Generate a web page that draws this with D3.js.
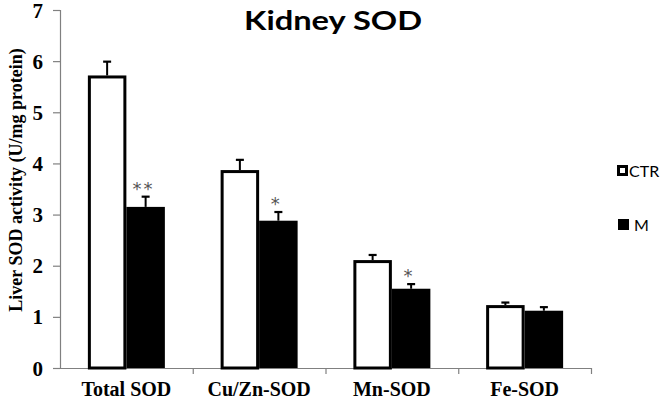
<!DOCTYPE html>
<html><head><meta charset="utf-8">
<script src="https://cdn.jsdelivr.net/npm/d3@7"></script>
<style>body{margin:0;background:#fff}svg{display:block}</style>
</head><body>
<svg id="c" width="666" height="403"></svg>
<script>
const categories = ["Total SOD", "Cu/Zn-SOD", "Mn-SOD", "Fe-SOD"];
const seriesNames = ["CTR", "M"];
const ctrValues = [5.72, 3.87, 2.11, 1.23];
const ctrErrors = [0.27, 0.20, 0.10, 0.05];
const mValues = [3.15, 2.88, 1.55, 1.12];
const mErrors = [0.20, 0.17, 0.09, 0.07];
const significance = ["**", "*", "*", ""];
const yTicks = [0, 1, 2, 3, 4, 5, 6, 7];

const svg = d3.select("#c");
const x0 = d3.scaleBand().domain(categories).range([60, 591]).paddingInner(0.42).paddingOuter(0.21);
const x1 = d3.scaleBand().domain(seriesNames).range([0, x0.bandwidth()]);
const y = d3.scaleLinear().domain([0, 7]).range([368, 10]);

const serif = "'Liberation Serif','Times New Roman',serif";
const sans = "Lato,'Open Sans','Liberation Sans',sans-serif";
const axisColor = "#808080";

// y axis
const yAxis = svg.append("g").attr("transform", "translate(60,0)")
  .call(d3.axisLeft(y).tickValues(yTicks).tickSize(7).tickPadding(10).tickFormat(d3.format("d")));
yAxis.select(".domain").attr("stroke", axisColor).attr("stroke-width", 1.2);
yAxis.selectAll(".tick line").attr("stroke", axisColor).attr("stroke-width", 1.2);
yAxis.selectAll(".tick text").attr("font-family", serif).attr("font-weight", "bold")
  .attr("font-size", 21).attr("fill", "#000").attr("dy", "0.34em");

// x axis
const xAxisScale = d3.scaleLinear().domain([0, 4]).range([60, 591]);
const xAxis = svg.append("g").attr("transform", "translate(0,368)")
  .call(d3.axisBottom(xAxisScale).tickValues([1, 2, 3, 4]).tickSize(6).tickSizeOuter(0).tickFormat(""));
xAxis.select(".domain").attr("stroke", axisColor).attr("stroke-width", 1.2);
xAxis.selectAll(".tick line").attr("stroke", axisColor).attr("stroke-width", 1.2);

svg.append("g").selectAll("text").data(categories).join("text")
  .attr("x", d => x0(d) + x0.bandwidth() / 2)
  .attr("y", 396)
  .attr("text-anchor", "middle")
  .attr("font-family", serif).attr("font-weight", "bold").attr("font-size", 20)
  .text(d => d);

// bars
const rows = categories.map((c, i) => ({
  cat: c,
  bars: [
    {s: "CTR", v: ctrValues[i], e: ctrErrors[i]},
    {s: "M", v: mValues[i], e: mErrors[i]}
  ],
  sig: significance[i]
}));

const groups = svg.append("g").selectAll("g").data(rows).join("g")
  .attr("transform", d => `translate(${x0(d.cat)},0)`);

groups.selectAll("g.err").data(d => d.bars).join("g").attr("class", "err").each(function(d) {
  const g = d3.select(this);
  const cx = x1(d.s) + x1.bandwidth() / 2;
  g.append("line").attr("x1", cx).attr("x2", cx).attr("y1", y(d.v)).attr("y2", y(d.v + d.e))
    .attr("stroke", "#000").attr("stroke-width", 2);
  g.append("line").attr("x1", cx - 4).attr("x2", cx + 4).attr("y1", y(d.v + d.e)).attr("y2", y(d.v + d.e))
    .attr("stroke", "#000").attr("stroke-width", 2.2);
});

groups.selectAll("rect").data(d => d.bars).join("rect")
  .attr("x", d => x1(d.s) + (d.s === "CTR" ? 1.5 : 0))
  .attr("y", d => y(d.v) + (d.s === "CTR" ? 1.5 : 0))
  .attr("width", d => x1.bandwidth() - (d.s === "CTR" ? 3 : 0))
  .attr("height", d => y(0) - y(d.v) - (d.s === "CTR" ? 1.5 : 0))
  .attr("fill", d => d.s === "CTR" ? "#fff" : "#000")
  .attr("stroke", "#000").attr("stroke-width", d => d.s === "CTR" ? 3 : 0);

// significance markers
groups.append("text")
  .attr("x", x1("M") + x1.bandwidth() / 2 - 2)
  .attr("y", d => y(d.bars[1].v + d.bars[1].e) - 2)
  .attr("text-anchor", "middle")
  .attr("font-family", "'DejaVu Sans',sans-serif").attr("font-size", 18)
  .attr("fill", "#555")
  .attr("letter-spacing", 2)
  .text(d => d.sig);

// title
svg.append("text").attr("x", 333).attr("y", 30).attr("text-anchor", "middle")
  .attr("font-family", sans).attr("font-weight", "bold")
  .attr("font-size", 26).attr("textLength", 178).attr("lengthAdjust", "spacingAndGlyphs")
  .text("Kidney SOD");

// y label
svg.append("text").attr("transform", "translate(22,180) rotate(-90)")
  .attr("text-anchor", "middle")
  .attr("font-family", serif).attr("font-weight", "bold").attr("font-size", 18)
  .text("Liver SOD activity (U/mg protein)");

// legend
const legend = svg.append("g").selectAll("g").data(seriesNames).join("g")
  .attr("transform", (d, i) => `translate(617,${165 + i * 54})`);
legend.append("rect")
  .attr("x", d => d === "CTR" ? 1.5 : 1).attr("y", d => d === "CTR" ? 1.5 : 0)
  .attr("width", d => d === "CTR" ? 8 : 11).attr("height", d => d === "CTR" ? 8 : 11)
  .attr("fill", d => d === "CTR" ? "#fff" : "#000")
  .attr("stroke", "#000").attr("stroke-width", d => d === "CTR" ? 3 : 0);
legend.append("text").attr("x", d => d === "CTR" ? 12 : 17).attr("y", 12)
  .attr("font-family", sans).attr("font-size", 16)
  .text(d => d);
</script>
</body></html>
